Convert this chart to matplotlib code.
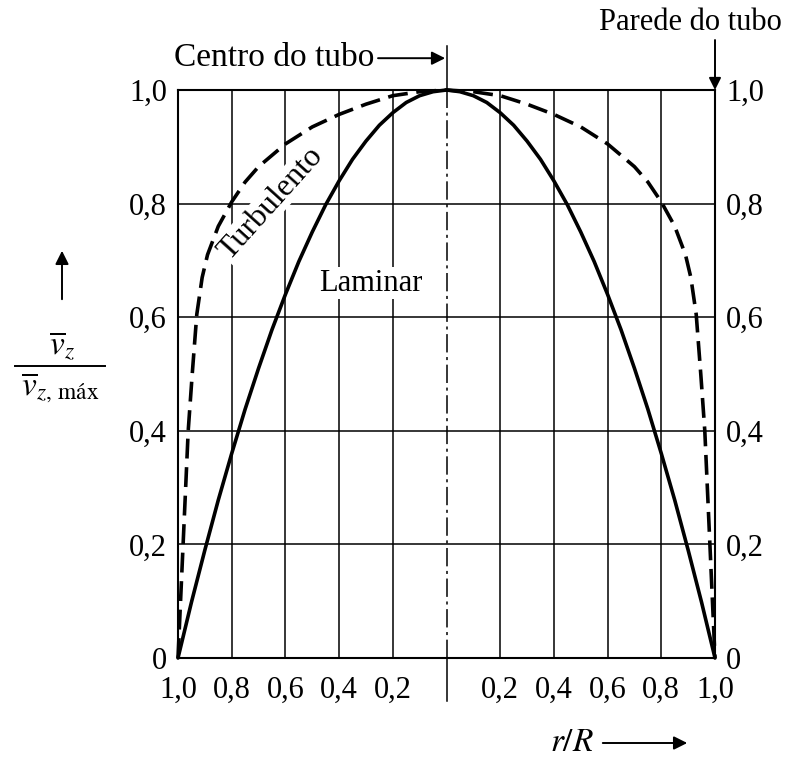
import matplotlib
matplotlib.use("Agg")
import matplotlib.pyplot as plt
import numpy as np

# ---- data ----
r_laminar = [0.0, 0.05, 0.10, 0.15, 0.20, 0.25, 0.30, 0.35, 0.40, 0.45, 0.50,
             0.55, 0.60, 0.65, 0.70, 0.75, 0.80, 0.85, 0.90, 0.95, 1.0]
v_laminar = [1.0, 0.997, 0.99, 0.978, 0.96, 0.938, 0.91, 0.878, 0.84, 0.798, 0.75,
             0.698, 0.64, 0.578, 0.51, 0.438, 0.36, 0.278, 0.19, 0.098, 0.0]
r_turb = [0.0, 0.1, 0.2, 0.3, 0.4, 0.5, 0.6, 0.7, 0.75, 0.8, 0.85, 0.89, 0.91,
          0.93, 0.947, 0.962, 0.981, 1.0]
v_turb = [1.0, 0.997, 0.99, 0.975, 0.957, 0.935, 0.905, 0.865, 0.838, 0.803, 0.76,
          0.71, 0.67, 0.605, 0.50, 0.40, 0.20, 0.0]
x_ticks = [-1.0, -0.8, -0.6, -0.4, -0.2, 0.0, 0.2, 0.4, 0.6, 0.8, 1.0]
x_ticklabels = ["1,0", "0,8", "0,6", "0,4", "0,2", "", "0,2", "0,4", "0,6", "0,8", "1,0"]
y_ticks = [0.0, 0.2, 0.4, 0.6, 0.8, 1.0]
y_ticklabels = ["0", "0,2", "0,4", "0,6", "0,8", "1,0"]

plt.rcParams["font.family"] = ["Liberation Serif", "DejaVu Serif"]
plt.rcParams["mathtext.fontset"] = "stix"

W, H = 786, 760
fig = plt.figure(figsize=(W / 100, H / 100), dpi=100)
L, R, T, B = 178, 715, 90, 658
ax = fig.add_axes([L / W, 1 - B / H, (R - L) / W, (B - T) / H])
ax.set_xlim(-1, 1)
ax.set_ylim(0, 1)

# grid
for xv in x_ticks:
    if abs(xv) < 1e-9 or abs(abs(xv) - 1) < 1e-9:
        continue
    ax.axvline(xv, color="black", lw=1.1, zorder=1)
for yv in y_ticks[1:-1]:
    ax.axhline(yv, color="black", lw=1.1, zorder=1)

# center dash-dot line
ax.plot([0, 0], [0, 1], color="black", lw=1.1, dashes=(12, 3, 2, 3), zorder=1)
ax.plot([0, 0], [1, 1.077], color="black", lw=1.1, clip_on=False)
ax.plot([0, 0], [0, -0.075], color="black", lw=1.1, clip_on=False)

# curves
r_l = np.array(r_laminar)
v_l = np.array(v_laminar)
x_lam = np.concatenate([-r_l[::-1], r_l[1:]])
y_lam = np.concatenate([v_l[::-1], v_l[1:]])
ax.plot(x_lam, y_lam, color="black", lw=2.6, solid_capstyle="round", zorder=4, clip_on=False)

r_t = np.array(r_turb)
v_t = np.array(v_turb)
x_tb = np.concatenate([-r_t[::-1], r_t[1:]])
y_tb = np.concatenate([v_t[::-1], v_t[1:]])
ax.plot(x_tb, y_tb, color="black", lw=2.6, dashes=(5.5, 2.4), zorder=4, clip_on=False)

# ticks
ax.set_xticks(x_ticks)
ax.set_xticklabels(x_ticklabels)
ax.set_yticks(y_ticks)
ax.set_yticklabels(y_ticklabels)
ax.tick_params(axis="both", length=0, labelsize=22)
ax.tick_params(axis="y", labelright=True, pad=8)
ax.tick_params(axis="x", pad=13)
for sp in ax.spines.values():
    sp.set_linewidth(1.5)

# labels inside
ax.text(-0.283, 0.66, "Laminar", fontsize=22, ha="center", va="center",
        bbox=dict(facecolor="white", edgecolor="none", pad=1), zorder=3)
ax.text(-0.655, 0.80, "Turbulento", fontsize=23, ha="center", va="center", rotation=48,
        rotation_mode="anchor",
        bbox=dict(facecolor="white", edgecolor="none", pad=0.5), zorder=3)

# Centro do tubo
ax.text(-0.27, 1.056, "Centro do tubo", fontsize=24, ha="right", va="center", clip_on=False)
ax.annotate("", xy=(-0.005, 1.056), xytext=(-0.255, 1.056), xycoords="data",
            arrowprops=dict(arrowstyle="-|>", color="black", lw=1.4, mutation_scale=20,
                            shrinkA=0, shrinkB=0), annotation_clip=False)

# Parede do tubo
fig.text(782 / W, 1 - 22 / H, "Parede do tubo", fontsize=22, ha="right", va="center")
ax.annotate("", xy=(1.0, 1.0), xytext=(1.0, 1.088), xycoords="data",
            arrowprops=dict(arrowstyle="-|>", color="black", lw=1.4, mutation_scale=18,
                            shrinkA=0, shrinkB=0), annotation_clip=False)

# y label (fraction)
fig.patches.append(matplotlib.patches.FancyArrowPatch(
    (62 / W, 1 - 302 / H), (62 / W, 1 - 248 / H), transform=fig.transFigure,
    arrowstyle="-|>", mutation_scale=20, color="black", lw=1.4))
fig.text(62 / W, 1 - 346 / H, r"$\overline{v}_z$", fontsize=24, ha="center", va="center")
fig.add_artist(matplotlib.lines.Line2D([15 / W, 105 / W], [1 - 366 / H, 1 - 366 / H],
                                       color="black", lw=1.4, transform=fig.transFigure))
fig.text(60 / W, 1 - 388 / H, r"$\overline{v}_{z,\,\mathrm{máx}}$", fontsize=24,
         ha="center", va="center")

# r/R arrow
fig.text(572 / W, 1 - 743 / H, r"$r/R$", fontsize=24, ha="center", va="center")
fig.patches.append(matplotlib.patches.FancyArrowPatch(
    (600 / W, 1 - 743 / H), (690 / W, 1 - 743 / H), transform=fig.transFigure,
    arrowstyle="-|>", mutation_scale=20, color="black", lw=1.4))

fig.savefig("out.png", dpi=100)
